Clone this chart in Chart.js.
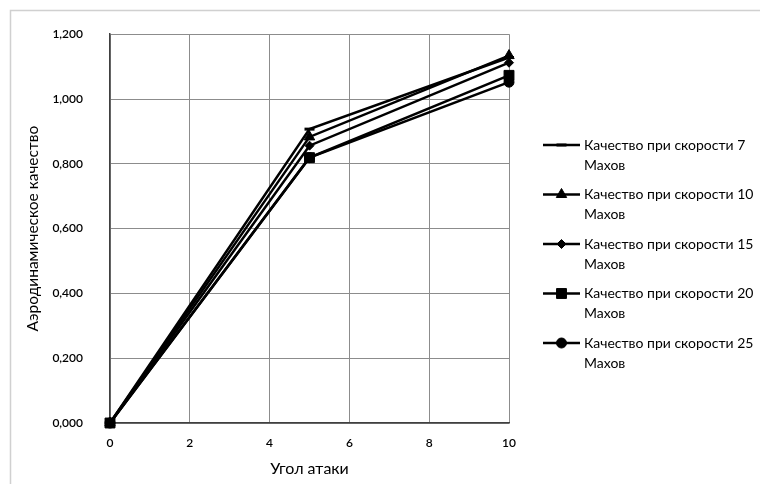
<!DOCTYPE html>
<html lang="ru">
<head>
<meta charset="utf-8">
<title>Аэродинамическое качество</title>
<script src="https://cdn.jsdelivr.net/npm/chart.js@4/dist/chart.umd.min.js"></script>
<style>
  html, body { margin: 0; padding: 0; background: #fff; }
  #wrap { width: 760px; height: 484px; position: relative; }
</style>
</head>
<body>
<div id="wrap"><canvas id="qualityChart" width="760" height="484"></canvas></div>
<script>
// angle of attack, degrees
const angles = [0, 5, 10];

// lift-to-drag ratio for each Mach number
const mach7  = [0, 0.907, 1.128];
const mach10 = [0, 0.883, 1.134];
const mach15 = [0, 0.856, 1.112];
const mach20 = [0, 0.819, 1.073];
const mach25 = [0, 0.819, 1.052];

const seriesLabels = [
  ["Качество при скорости 7", "Махов"],
  ["Качество при скорости 10", "Махов"],
  ["Качество при скорости 15", "Махов"],
  ["Качество при скорости 20", "Махов"],
  ["Качество при скорости 25", "Махов"]
];

const FONT = "Lato, 'Open Sans', sans-serif";

const markers = [
  { pointStyle: "line", pointRadius: 5, pointBorderWidth: 3 },
  { pointStyle: "triangle", pointRadius: 6, pointBorderWidth: 1 },
  { pointStyle: "rectRot", pointRadius: 4.5, pointBorderWidth: 1 },
  { pointStyle: "rect", pointRadius: 7, pointBorderWidth: 1 },
  { pointStyle: "circle", pointRadius: 5, pointBorderWidth: 1 }
];

function toPoints(values) {
  return angles.map((a, i) => ({ x: a, y: values[i] }));
}

const datasets = [mach7, mach10, mach15, mach20, mach25].map((vals, i) => ({
  label: seriesLabels[i].join(" "),
  data: toPoints(vals),
  borderColor: "#000",
  backgroundColor: "#000",
  pointBackgroundColor: "#000",
  pointBorderColor: "#000",
  borderWidth: 2.5,
  tension: 0,
  clip: false,
  ...markers[i]
}));

// light frame round the whole chart
const framePlugin = {
  id: "frame",
  beforeDraw(chart) {
    const ctx = chart.ctx;
    ctx.save();
    ctx.fillStyle = "#fff";
    ctx.fillRect(0, 0, chart.width, chart.height);
    ctx.strokeStyle = "#d0d0d0";
    ctx.lineWidth = 1.5;
    ctx.strokeRect(10.5, 10.5, chart.width + 10, chart.height + 10);
    ctx.restore();
  }
};

// legend to the right, two text lines per entry
const sideLegend = {
  id: "sideLegend",
  afterDraw(chart) {
    const ctx = chart.ctx;
    const x0 = 543, x1 = 580, textX = 584;
    const top = 145, step = 49.5, lineGap = 20;
    ctx.save();
    chart.data.datasets.forEach((ds, i) => {
      const y = top + i * step;
      ctx.strokeStyle = "#000";
      ctx.lineWidth = 2.5;
      ctx.beginPath();
      ctx.moveTo(x0, y);
      ctx.lineTo(x1, y);
      ctx.stroke();

      ctx.fillStyle = "#000";
      ctx.lineWidth = ds.pointBorderWidth;
      if (Chart.helpers && Chart.helpers.drawPoint) {
        Chart.helpers.drawPoint(ctx, {
          pointStyle: ds.pointStyle,
          radius: ds.pointRadius,
          borderWidth: ds.pointBorderWidth,
          rotation: 0
        }, (x0 + x1) / 2, y);
      }

      ctx.fillStyle = "#000";
      ctx.font = "14px " + FONT;
      ctx.textAlign = "left";
      ctx.textBaseline = "middle";
      seriesLabels[i].forEach((t, k) => ctx.fillText(t, textX, y + k * lineGap));
    });
    ctx.restore();
  }
};

const ctx = document.getElementById("qualityChart").getContext("2d");
new Chart(ctx, {
  type: "line",
  data: { datasets },
  options: {
    responsive: false,
    animation: false,
    devicePixelRatio: 1,
    layout: { padding: { left: 10, top: 26, right: 251, bottom: 0 } },
    plugins: {
      legend: { display: false },
      tooltip: { enabled: false }
    },
    scales: {
      x: {
        type: "linear",
        min: 0,
        max: 10,
        afterFit: (s) => { s.height = 61; },
        ticks: {
          stepSize: 2,
          padding: 13,
          color: "#000",
          font: { family: FONT, size: 12, weight: 600 },
          callback: (v) => String(v)
        },
        grid: { color: "#8c8c8c", drawTicks: false },
        border: { color: "#404040", width: 1.5 },
        title: {
          display: true,
          text: "Угол атаки",
          color: "#000",
          font: { family: FONT, size: 16 },
          padding: { top: 0, bottom: 6 }
        }
      },
      y: {
        min: 0,
        max: 1.2,
        afterFit: (s) => { s.width = 100; },
        ticks: {
          stepSize: 0.2,
          padding: 27,
          color: "#000",
          font: { family: FONT, size: 12, weight: 600 },
          callback: (v) => Number(v).toFixed(3).replace(".", ",")
        },
        grid: { color: "#8c8c8c", drawTicks: false },
        border: { color: "#404040", width: 1.5 },
        title: {
          display: true,
          text: "Аэродинамическое качество",
          color: "#000",
          font: { family: FONT, size: 15.5 },
          padding: { top: 14, bottom: 0 }
        }
      }
    }
  },
  plugins: [framePlugin, sideLegend]
});
</script>
</body>
</html>
